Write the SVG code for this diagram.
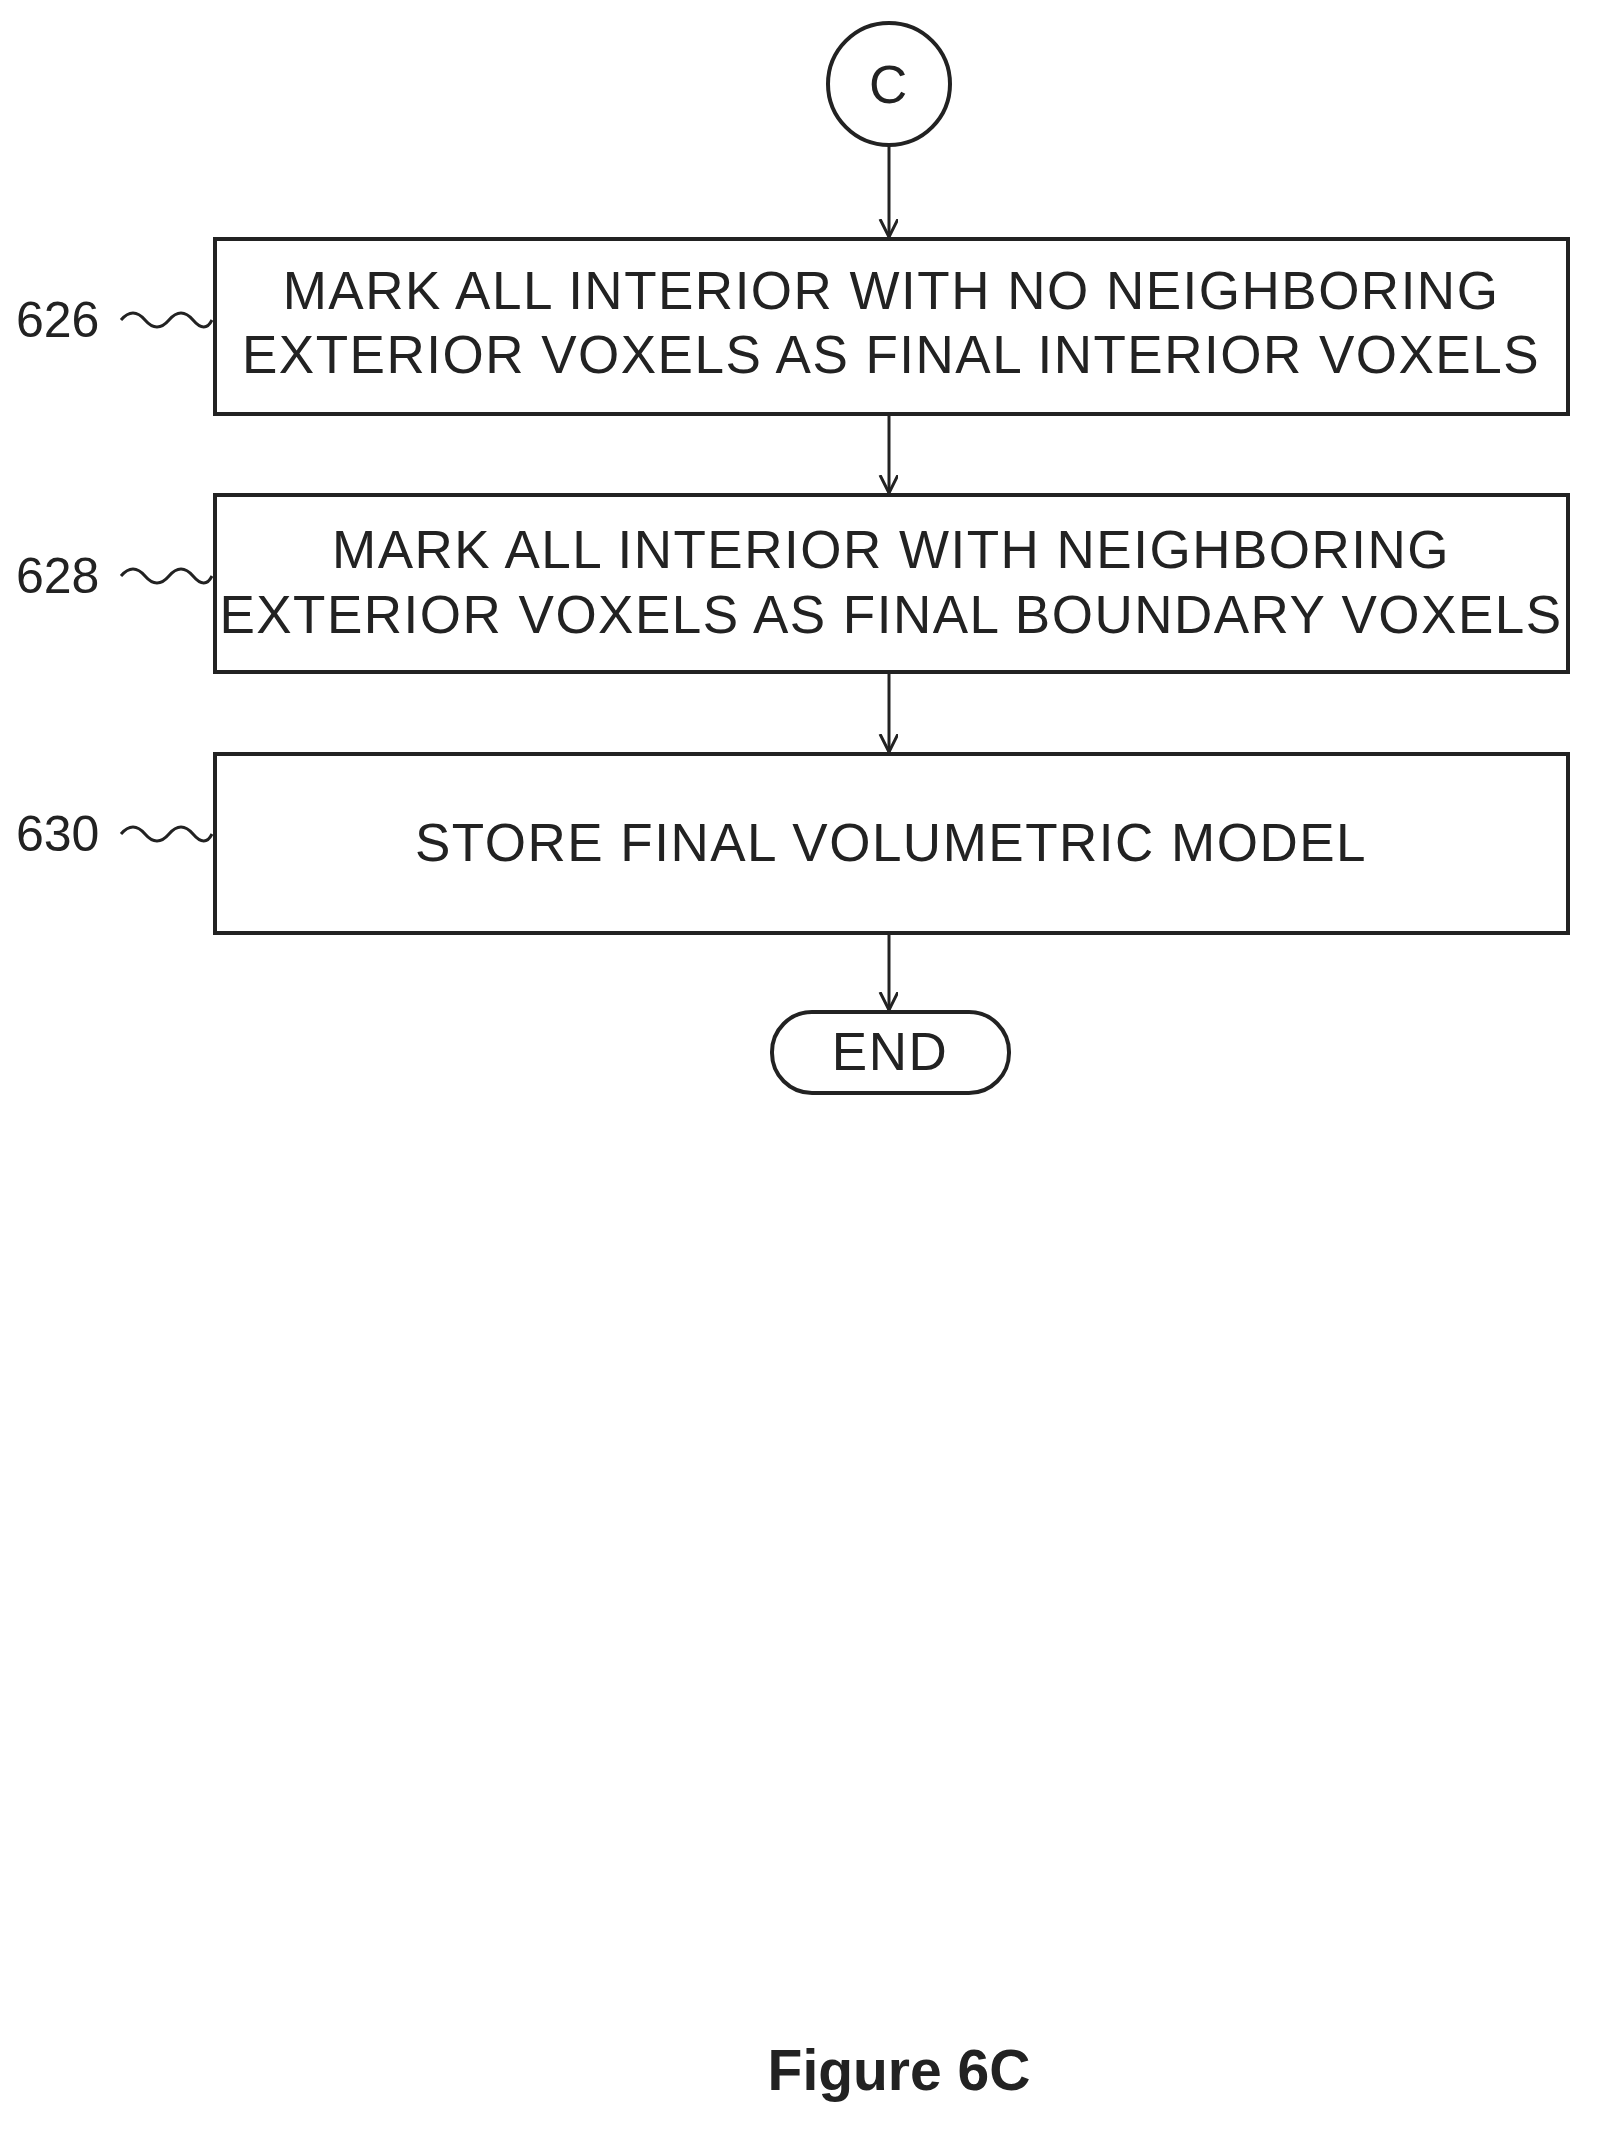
<svg xmlns="http://www.w3.org/2000/svg" width="1599" height="2129" viewBox="0 0 1599 2129">
<style>
.b{fill:#fff;stroke:#222;stroke-width:4}
.t{font-family:"Liberation Sans",Arial,sans-serif;font-size:53px;letter-spacing:1.5px;fill:#222;text-anchor:middle}
.l{font-family:"Liberation Sans",Arial,sans-serif;font-size:50px;fill:#222}
.c{stroke:#222;stroke-width:3;fill:none}
</style>
<defs><marker id="a" markerWidth="20" markerHeight="20" refX="18" refY="9" orient="auto" markerUnits="userSpaceOnUse"><path d="M0,0 L18,9 L0,18" fill="none" stroke="#222" stroke-width="3"/></marker></defs>
<rect width="1599" height="2129" fill="#fff"/>
<g id="c"><circle class="b" cx="889" cy="84" r="61"/><text class="t" x="889" y="103">C</text></g>
<g id="n626"><rect class="b" x="215" y="239" width="1353" height="175"/><text class="t" x="891" y="309">MARK ALL INTERIOR WITH NO NEIGHBORING</text><text class="t" x="891" y="373">EXTERIOR VOXELS AS FINAL INTERIOR VOXELS</text><text class="l" x="16" y="337">626</text><path class="c" d="M121,320 q12,-14 24,0 t24,0 t24,0 t19,0"/></g>
<g id="n628"><rect class="b" x="215" y="495" width="1353" height="177"/><text class="t" x="891" y="568">MARK ALL INTERIOR WITH NEIGHBORING</text><text class="t" x="891" y="633">EXTERIOR VOXELS AS FINAL BOUNDARY VOXELS</text><text class="l" x="16" y="593">628</text><path class="c" d="M121,576 q12,-14 24,0 t24,0 t24,0 t19,0"/></g>
<g id="n630"><rect class="b" x="215" y="754" width="1353" height="179"/><text class="t" x="891" y="861">STORE FINAL VOLUMETRIC MODEL</text><text class="l" x="16" y="851">630</text><path class="c" d="M121,834 q12,-14 24,0 t24,0 t24,0 t19,0"/></g>
<g id="end"><rect class="b" x="772" y="1012" width="237" height="81" rx="40"/><text class="t" x="890" y="1070">END</text></g>
<g id="connectors" class="c">
<line x1="889" y1="145" x2="889" y2="237" marker-end="url(#a)"/>
<line x1="889" y1="414" x2="889" y2="493" marker-end="url(#a)"/>
<line x1="889" y1="672" x2="889" y2="752" marker-end="url(#a)"/>
<line x1="889" y1="933" x2="889" y2="1010" marker-end="url(#a)"/>
</g>
<text x="899" y="2090" style="font-family:'Liberation Sans',Arial,sans-serif;font-size:57px;font-weight:bold;fill:#222;text-anchor:middle">Figure 6C</text>
</svg>
